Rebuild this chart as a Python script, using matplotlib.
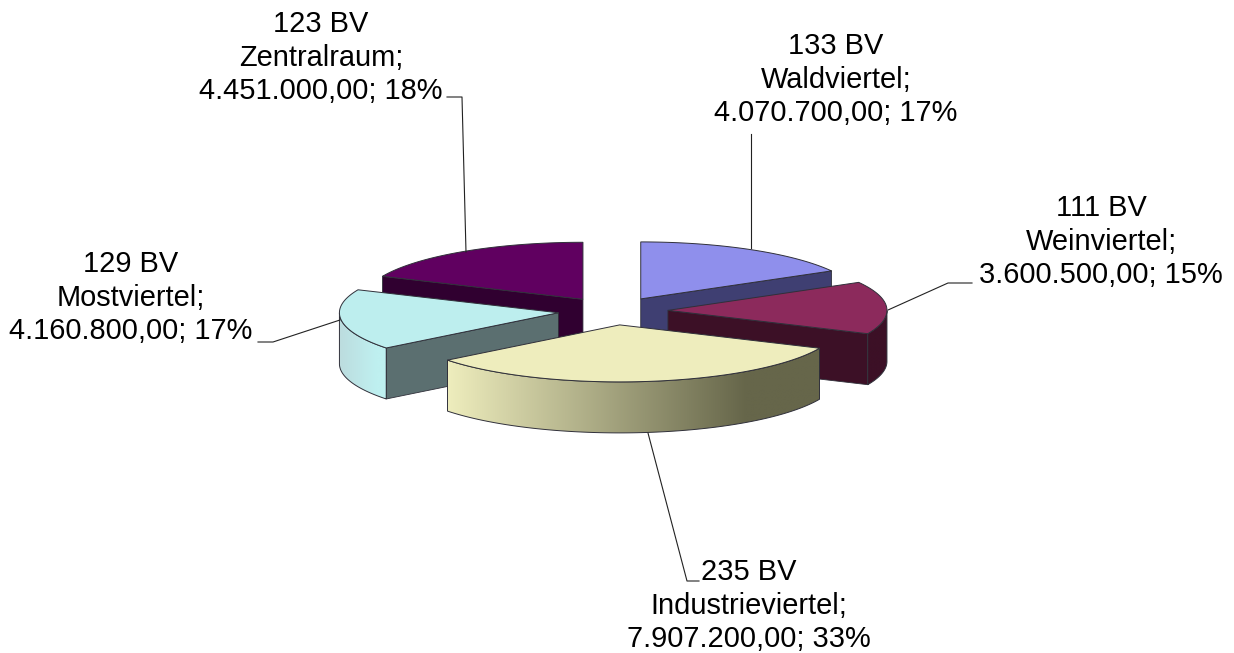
import numpy as np
import matplotlib
matplotlib.use('Agg')
import matplotlib.pyplot as plt
from matplotlib.patches import Polygon
from matplotlib.colors import to_rgb

plt.rcParams['font.family'] = ['Liberation Sans', 'DejaVu Sans']

# data, clockwise from 12 o'clock
regions = ['Waldviertel', 'Weinviertel', 'Industrieviertel', 'Mostviertel', 'Zentralraum']
counts = ['133 BV', '111 BV', '235 BV', '129 BV', '123 BV']
values = [4070700, 3600500, 7907200, 4160800, 4451000]
value_labels = ['4.070.700,00', '3.600.500,00', '7.907.200,00', '4.160.800,00', '4.451.000,00']
percents = ['17%', '15%', '33%', '17%', '18%']

top_colors = ['#8f8fec', '#8c2a5c', '#eeedbd', '#bdeeee', '#600060']
side_colors = ['#3f3f72', '#3c1026', '#66664a', '#5b6f70', '#300030']
wall_left = ['#3f3f72', '#3c1026', '#eeedbd', '#bcdcde', '#300030']
wall_right = ['#3f3f72', '#3c1026', '#66664a', '#bff0f0', '#300030']

# layout in pixels
CX, CY = 613, 311
RX, RY = 219, 57
DEPTH = 51
EXPLODE_X, EXPLODE_Y = 55, 14
EDGE = '#30303a'

label_pos = [(836, 46), (1101, 208), (749, 572), (131, 264), (321, 24)]
LINE_GAP = 33.5
leaders = [
    [(751, 134), (751, 248)],
    [(972, 283), (948, 283), (888, 310)],
    [(648, 433), (687, 581), (699, 581)],
    [(258, 342), (273, 342), (340, 320)],
    [(447, 97), (462, 97), (466, 252)],
]

fig = plt.figure(figsize=(12.34, 6.53), dpi=100)
ax = fig.add_axes([0, 0, 1, 1])
ax.axis('off')

fracs = np.array(values) / sum(values)
starts = np.concatenate([[0], np.cumsum(fracs)[:-1]]) * 2 * np.pi
ends = np.cumsum(fracs) * 2 * np.pi


def rim(ox, oy, a):
    return ox + RX * np.sin(a), oy - RY * np.cos(a)


def draw_slice(i, z):
    mid = (starts[i] + ends[i]) / 2
    ox = CX + EXPLODE_X * np.sin(mid)
    oy = CY - EXPLODE_Y * np.cos(mid)
    angs = np.linspace(starts[i], ends[i], 240)
    xs, ys = rim(ox, oy, angs)

    # cut faces, only those turned to the viewer
    for a, sign in ((starts[i], -1), (ends[i], 1)):
        if np.sin(a) * sign <= 1e-6:
            continue
        x, y = rim(ox, oy, a)
        ax.add_patch(Polygon([(ox, oy), (x, y), (x, y + DEPTH), (ox, oy + DEPTH)],
                             closed=True, fc=side_colors[i], ec=EDGE, lw=0.6, zorder=z))

    # outer wall, front part only, gradient clipped to the wall shape
    front = (angs >= np.pi / 2) & (angs <= 3 * np.pi / 2)
    if front.any():
        fx, fy = xs[front], ys[front]
        c0, c1 = np.array(to_rgb(wall_left[i])), np.array(to_rgb(wall_right[i]))
        x0, x1 = fx.min(), fx.max()
        t = np.clip(np.linspace(0, 1, 256) * 1.25, 0, 1)[:, None]
        grad = (c0 + (c1 - c0) * t)[None, :, :]
        im = ax.imshow(grad, extent=[x0, x1, fy.max() + DEPTH + 1, fy.min() - 1], aspect='auto',
                       interpolation='bilinear', zorder=z + 0.1)
        wall = Polygon(list(zip(fx, fy)) + list(zip(fx[::-1], fy[::-1] + DEPTH)), closed=True,
                       fc='none', ec=EDGE, lw=0.7, zorder=z + 0.2)
        ax.add_patch(wall)
        im.set_clip_path(wall)

    # top
    pts = [(ox, oy)] + list(zip(xs, ys))
    ax.add_patch(Polygon(pts, closed=True, fc=top_colors[i], ec=EDGE, lw=0.7, zorder=z + 0.3))


# painter's order, back to front
for z, i in enumerate([4, 0, 3, 1, 2]):
    draw_slice(i, 10 + z)

for line in leaders:
    ax.plot([p[0] for p in line], [p[1] for p in line], color='#222222', lw=0.8, zorder=30)

for i, (x, y) in enumerate(label_pos):
    rows = [counts[i], regions[i] + ';', f'{value_labels[i]}; {percents[i]}']
    for j, row in enumerate(rows):
        ax.text(x, y + j * LINE_GAP, row, ha='center', va='center', fontsize=20.9, color='black')

ax.set_xlim(0, 1234)
ax.set_ylim(653, 0)

fig.savefig('out.png', dpi=100, facecolor='white')
